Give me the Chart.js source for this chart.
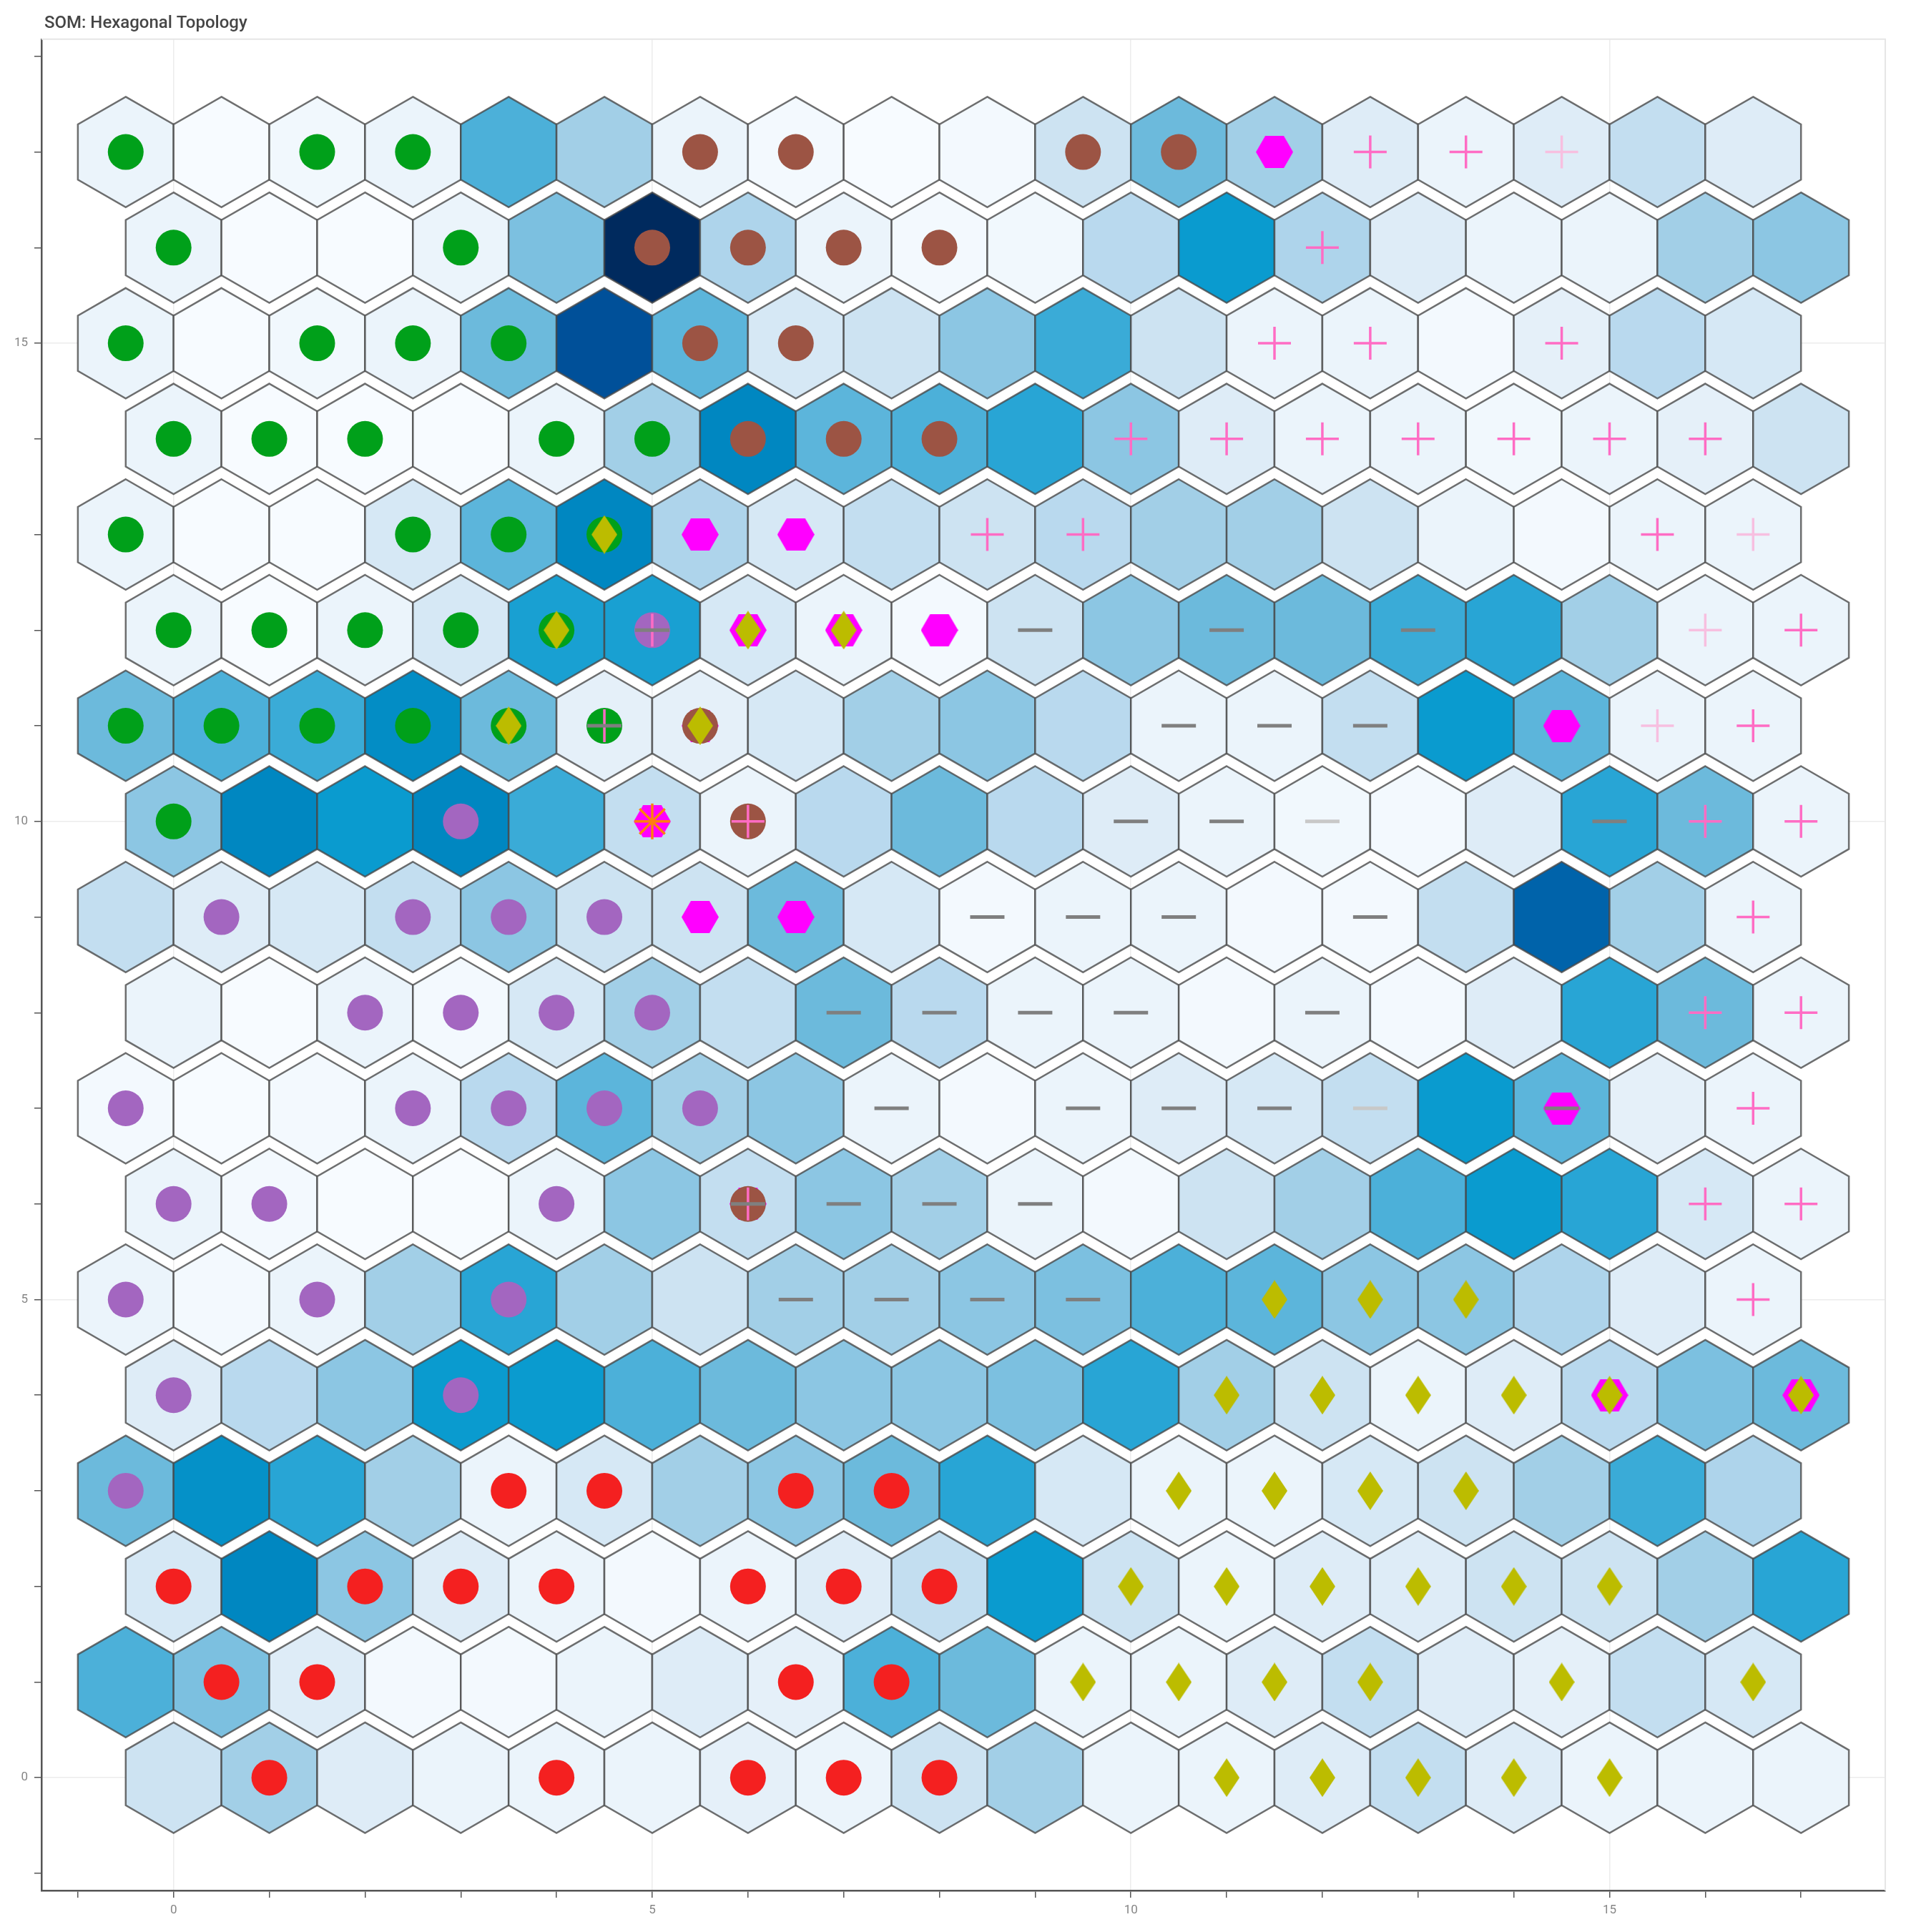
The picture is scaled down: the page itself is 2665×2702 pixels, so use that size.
<!DOCTYPE html>
<html>
<head>
<meta charset="utf-8">
<script src="https://cdn.jsdelivr.net/npm/chart.js@4.4.1/dist/chart.umd.min.js"></script>
<style>
html,body{margin:0;padding:0;background:#ffffff;}
#wrap{width:2665px;height:2702px;position:relative;}
</style>
</head>
<body>
<div id="wrap"><canvas id="som"></canvas></div>
<script>
// ---------------- data ----------------
const chartTitle = 'SOM: Hexagonal Topology';
const xTickLabels = [0, 5, 10, 15];
const yTickLabels = [0, 5, 10, 15];

// node distance level (0 = lightest, 13 = darkest) for each grid row, row 0 at the bottom;
// odd rows are shifted half a node to the left (hexagonal topology)
const row0  = [3,5,2,1,1,1,1.5,1,3,5,1,1,2,3.5,2,1,1,1];
const row1  = [8,6.5,2,0.3,0.3,1,2,1.5,8,7,1,1,2,3.5,2,1.5,3.5,2.5];
const row2  = [2.5,11,6,2,1,0.3,1,2,3.5,10,3,1,2,2,3,3,5,9];
const row3  = [7,10.5,9,5,1,2.5,5,6,7,9,2.5,1,1,2.5,3,5,8.5,4.5];
const row4  = [2,4,6,10,10,8,7,6,6,6.5,9,5,3,1,2,4,6.5,7];
const row5  = [1,0.3,1,5,9,5,3,5,5,6,6.5,8,7.5,6,6,4.5,2,1];
const row6  = [1,0.3,0,0,1,6,3.5,6,5,1,0.3,3,5,8,10,9,2.5,1];
const row7  = [0.3,0,0.3,1,4,7.5,5,6,1,0.3,1,2,2.5,3.5,10,7.5,1.5,1];
const row8  = [1,0,1,0.3,2.5,5,3.5,7,4,1,1,0.3,1,0.3,2,9,7,1];
const row9  = [3.5,2,2.5,3.5,6,3,3,7,2.5,0.3,1,1,0.3,0.3,3.5,11.7,5,1];
const row10 = [6,11,10,11,8.5,3.5,1,4,7,4,2,1,0.5,0.3,2,9,7,1];
const row11 = [7,8,8.5,10.7,7,1.5,1.5,2.5,5,6,4,1,1,3.5,10,7.5,1,1];
const row12 = [1,0,1,2.5,9.5,9.5,2.5,1,0.3,3,6,7,7,8.5,9,5,1,1];
const row13 = [1,0,0,2.5,7.5,11,4.5,2.5,3.5,3,4,5,5,3,1,0.3,1,1];
const row14 = [1,0,0,0,1,5,11,7.5,8,9,6,2,1,1,0.5,1,1.5,3];
const row15 = [1,0,0.5,1,7,12.1,7.5,2.5,3,6,8.5,3,1,1,0.3,1.5,4,2.5];
const row16 = [1,0,0,1,6.5,13,4.5,1,0.3,0.5,4,10,4.5,2,1,1,5,6];
const row17 = [1,0,0.5,1,8,5,1,0.3,0,0.3,3,7,5,2,1,2,3.5,2];
const gridRows = [row0,row1,row2,row3,row4,row5,row6,row7,row8,row9,row10,row11,row12,row13,row14,row15,row16,row17];

// colour ramp for the distance levels
const bluePalette = ['#f7fbff','#ebf4fb','#deecf7','#cde3f2','#b9d9ee','#a2cfe7','#8cc6e3',
                     '#6cbadc','#4cb0d9','#28a5d5','#0a9bcf','#0087c1','#0054a0','#002a5e'];

// winning nodes of each class
const greenNodes = [[-0.5,17],[1.5,17],[2.5,17],[0,16],[3,16],[-0.5,15],[1.5,15],[2.5,15],[3.5,15],
  [0,14],[1,14],[2,14],[4,14],[5,14],[-0.5,13],[2.5,13],[3.5,13],[4.5,13],
  [0,12],[1,12],[2,12],[3,12],[4,12],[-0.5,11],[0.5,11],[1.5,11],[2.5,11],[3.5,11],[4.5,11],[0,10]];
const brownNodes = [[5.5,17],[6.5,17],[9.5,17],[10.5,17],[5,16],[6,16],[7,16],[8,16],
  [5.5,15],[6.5,15],[6,14],[7,14],[8,14],[5.5,11],[6,10],[6,6]];
const purpleNodes = [[5,12],[3,10],[0.5,9],[2.5,9],[3.5,9],[4.5,9],[2,8],[3,8],[4,8],[5,8],
  [-0.5,7],[2.5,7],[3.5,7],[4.5,7],[5.5,7],[0,6],[1,6],[4,6],[-0.5,5],[1.5,5],[3.5,5],[0,4],[3,4],[-0.5,3]];
const redNodes = [[3.5,3],[4.5,3],[6.5,3],[7.5,3],[0,2],[2,2],[3,2],[4,2],[6,2],[7,2],[8,2],
  [0.5,1],[1.5,1],[6.5,1],[7.5,1],[1,0],[4,0],[6,0],[7,0],[8,0]];
const magentaNodes = [[11.5,17],[5.5,13],[6.5,13],[6,12],[7,12],[8,12],[5.5,11],[14.5,11],[5,10],
  [5.5,9],[6.5,9],[14.5,7],[6,6],[15,4],[17,4]];
const plusNodes = [[12.5,17],[13.5,17],[12,16],[11.5,15],[12.5,15],[14.5,15],
  [10,14],[11,14],[12,14],[13,14],[14,14],[15,14],[16,14],[8.5,13],[9.5,13],[15.5,13],
  [17,12],[16.5,11],[16,10],[17,10],[16.5,9],[16,8],[17,8],[16.5,7],[16,6],[17,6],[16.5,5],
  [5,12],[4.5,11],[6,10],[6,6]];
const faintPlusNodes = [[14.5,17],[16.5,13],[16,12],[15.5,11]];
const dashNodes = [[9,12],[11,12],[13,12],[5,12],[10.5,11],[11.5,11],[12.5,11],[4.5,11],
  [10,10],[11,10],[15,10],[8.5,9],[9.5,9],[10.5,9],[12.5,9],[7,8],[8,8],[9,8],[10,8],[12,8],
  [7.5,7],[9.5,7],[10.5,7],[11.5,7],[14.5,7],[7,6],[8,6],[9,6],[6,6],[6.5,5],[7.5,5],[8.5,5],[9.5,5]];
const faintDashNodes = [[12,10],[12.5,7]];
const starNodes = [[5,10]];
const diamondNodes = [[4.5,13],[4,12],[6,12],[7,12],[3.5,11],[5.5,11],
  [11.5,5],[12.5,5],[13.5,5],[11,4],[12,4],[13,4],[14,4],[15,4],[17,4],
  [10.5,3],[11.5,3],[12.5,3],[13.5,3],[10,2],[11,2],[12,2],[13,2],[14,2],[15,2],
  [9.5,1],[10.5,1],[11.5,1],[12.5,1],[14.5,1],[16.5,1],[11,0],[12,0],[13,0],[14,0],[15,0]];

// ---------------- helpers ----------------
function hexToRgb(h){ return [parseInt(h.slice(1,3),16),parseInt(h.slice(3,5),16),parseInt(h.slice(5,7),16)]; }
function levelColor(v){
  const lo = Math.max(0, Math.min(bluePalette.length-1, Math.floor(v)));
  const hi = Math.min(bluePalette.length-1, lo+1);
  const t = v - lo;
  const a = hexToRgb(bluePalette[lo]), b = hexToRgb(bluePalette[hi]);
  const c = a.map((q,i)=>Math.round(q + (b[i]-q)*t));
  return 'rgb(' + c.join(',') + ')';
}
const toPts = arr => arr.map(([x,y]) => ({x, y}));

const tileData = [], tileColors = [];
gridRows.forEach((vals, r) => {
  vals.forEach((v, c) => {
    tileData.push({x: c - (r % 2 ? 0.5 : 0), y: r});
    tileColors.push(levelColor(v));
  });
});

function makeHexIcon(w, color){
  const c = document.createElement('canvas');
  const h = Math.round(w*Math.sqrt(3)/2);
  c.width = w; c.height = h;
  const g = c.getContext('2d');
  g.fillStyle = color;
  g.beginPath();
  g.moveTo(0,h/2); g.lineTo(w/4,0); g.lineTo(3*w/4,0); g.lineTo(w,h/2); g.lineTo(3*w/4,h); g.lineTo(w/4,h);
  g.closePath(); g.fill();
  return c;
}
function makeDiamondIcon(w, h, color){
  const c = document.createElement('canvas');
  c.width = w; c.height = h;
  const g = c.getContext('2d');
  g.fillStyle = color;
  g.beginPath();
  g.moveTo(w/2,0); g.lineTo(w,h/2); g.lineTo(w/2,h); g.lineTo(0,h/2);
  g.closePath(); g.fill();
  return c;
}
const hexIcon = makeHexIcon(52, '#ff00ff');
const diamondIcon = makeDiamondIcon(36, 54, '#bcbc00');

// ---------------- plugins ----------------
const hexTiles = {
  id: 'hexTiles',
  beforeDatasetsDraw(chart){
    const meta = chart.getDatasetMeta(0);
    const xs = chart.scales.x;
    const w = Math.abs(xs.getPixelForValue(1) - xs.getPixelForValue(0));
    const R = w / Math.sqrt(3);
    const ctx = chart.ctx;
    const colors = chart.data.datasets[0].backgroundColor;
    ctx.save();
    ctx.lineJoin = 'miter';
    meta.data.forEach((pt, i) => {
      ctx.beginPath();
      for (let k = 0; k < 6; k++){
        const a = (60*k - 90) * Math.PI/180;
        const px = pt.x + R*Math.cos(a), py = pt.y + R*Math.sin(a);
        if (k === 0) ctx.moveTo(px, py); else ctx.lineTo(px, py);
      }
      ctx.closePath();
      ctx.fillStyle = colors[i];
      ctx.fill();
      ctx.lineWidth = 2.5;
      ctx.strokeStyle = 'rgba(70,70,70,0.78)';
      ctx.stroke();
    });
    ctx.restore();
  }
};
const frame = {
  id: 'frame',
  beforeDatasetsDraw(chart){
    const {left, right, top, bottom} = chart.chartArea;
    const ctx = chart.ctx;
    ctx.save();
    ctx.strokeStyle = '#e6e6e6';
    ctx.lineWidth = 2;
    ctx.beginPath();
    ctx.moveTo(left, top); ctx.lineTo(right, top); ctx.lineTo(right, bottom);
    ctx.stroke();
    ctx.restore();
  }
};
const titleShift = {
  id: 'titleShift',
  afterLayout(chart){
    const t = chart.titleBlock;
    if (t){ const w = t.right - t.left; t.left = chart.chartArea.left + 4; t.right = t.left + w; }
  }
};

// ---------------- chart ----------------
function markerSet(label, nodes, style, extra){
  return Object.assign({label, data: toPts(nodes), pointStyle: style, pointBorderWidth: 0}, extra);
}

new Chart(document.getElementById('som'), {
  type: 'scatter',
  data: {
    datasets: [
      {label: 'nodes', data: tileData, backgroundColor: tileColors, pointRadius: 0, order: 20},
      markerSet('hexagon', magentaNodes, hexIcon, {pointRadius: 20, order: 9}),
      markerSet('green', greenNodes, 'circle', {pointRadius: 25, pointBackgroundColor: '#00a01a', order: 8}),
      markerSet('brown', brownNodes, 'circle', {pointRadius: 25, pointBackgroundColor: '#9c5444', order: 8}),
      markerSet('purple', purpleNodes, 'circle', {pointRadius: 25, pointBackgroundColor: '#a366c0', order: 8}),
      markerSet('red', redNodes, 'circle', {pointRadius: 25, pointBackgroundColor: '#f42020', order: 8}),
      markerSet('plus', plusNodes, 'cross', {pointRadius: 23, pointBorderWidth: 3.5, pointBorderColor: '#ff6cc4', order: 6}),
      markerSet('plus faint', faintPlusNodes, 'cross', {pointRadius: 23, pointBorderWidth: 3.5, pointBorderColor: '#f7bfe0', order: 6}),
      markerSet('dash', dashNodes, 'line', {pointRadius: 24, pointBorderWidth: 5, pointBorderColor: '#7f7f7f', order: 5}),
      markerSet('dash faint', faintDashNodes, 'line', {pointRadius: 24, pointBorderWidth: 5, pointBorderColor: '#c8c8c8', order: 5}),
      markerSet('star', starNodes, 'star', {pointRadius: 25, pointBorderWidth: 3.5, pointBorderColor: '#ff7f0e', order: 4}),
      markerSet('diamond', diamondNodes, diamondIcon, {pointRadius: 20, order: 3})
    ]
  },
  options: {
    responsive: true,
    maintainAspectRatio: false,
    devicePixelRatio: 1,
    animation: false,
    events: [],
    layout: {padding: {left: 0, right: 29, top: 0, bottom: 0}},
    plugins: {
      legend: {display: false},
      tooltip: {enabled: false},
      title: {
        display: true, text: chartTitle, align: 'start', color: '#454545',
        font: {family: 'Roboto', size: 24, weight: '500'},
        padding: {top: 19, bottom: 7}
      }
    },
    scales: {
      x: {
        type: 'linear', min: -1.38, max: 17.88,
        afterFit: s => { s.height = 58; },
        border: {display: true, color: '#555555', width: 2.5},
        grid: {
          color: c => (c.tick && xTickLabels.includes(c.tick.value)) ? '#ececec' : 'rgba(0,0,0,0)',
          tickColor: '#555555', tickLength: 10, lineWidth: 1.5
        },
        ticks: {
          stepSize: 1, includeBounds: false, autoSkip: false, maxRotation: 0,
          color: '#858585', font: {family: 'Roboto', size: 17}, padding: 8,
          callback: v => xTickLabels.includes(v) ? String(v) : ''
        }
      },
      y: {
        type: 'linear', min: -1.18, max: 18.18,
        afterFit: s => { s.width = 58; },
        border: {display: true, color: '#555555', width: 2.5},
        grid: {
          color: c => (c.tick && yTickLabels.includes(c.tick.value)) ? '#ececec' : 'rgba(0,0,0,0)',
          tickColor: '#555555', tickLength: 10, lineWidth: 1.5
        },
        ticks: {
          stepSize: 1, includeBounds: false, autoSkip: false,
          color: '#858585', font: {family: 'Roboto', size: 17}, padding: 9,
          callback: v => yTickLabels.includes(v) ? String(v) : ''
        }
      }
    }
  },
  plugins: [hexTiles, frame, titleShift]
});
</script>
</body>
</html>
